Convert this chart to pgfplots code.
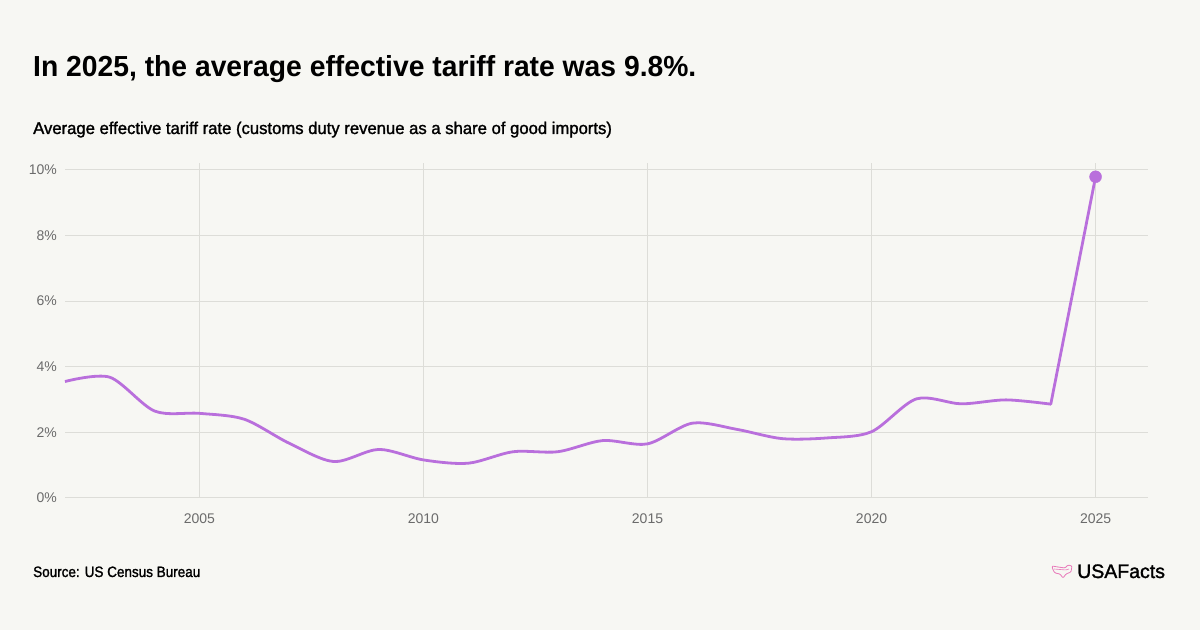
\documentclass[border=0pt]{standalone}
\usepackage{pgfplots}
\pgfplotsset{compat=1.18}
\usepackage{fontspec}
\setmainfont{Liberation Sans}
\newfontfamily\titlefont{Liberation Sans}[FakeStretch=0.975]
\newfontfamily\subfont{Liberation Sans}[FakeStretch=0.98,FakeBold=1.5]
\newfontfamily\srcfont{Liberation Sans}[FakeStretch=0.9,FakeBold=1.5]
\newfontfamily\logofont{Liberation Sans}[FakeBold=1.5]
\definecolor{bg}{HTML}{F7F7F3}
\definecolor{gridc}{HTML}{DDDDD8}
\definecolor{linec}{HTML}{B96FDC}
\definecolor{tickc}{HTML}{6B6B6B}
\definecolor{logop}{HTML}{E879B9}
\begin{document}
\begin{tikzpicture}[x=1bp,y=1bp]
\fill[bg] (0,0) rectangle (1200,630);
\useasboundingbox (0,0) rectangle (1200,630);
\node[anchor=base west, inner sep=0, font=\titlefont\bfseries\fontsize{29bp}{34bp}\selectfont] at (33,553) {In 2025, the average effective tariff rate was 9.8\%.};
\node[anchor=base west, inner sep=0, font=\subfont\fontsize{17bp}{20bp}\selectfont] at (33,496) {Average effective tariff rate (customs duty revenue as a share of good imports)};
\node[anchor=base west, inner sep=0, font=\srcfont\fontsize{15bp}{18bp}\selectfont] at (33,53) {Source: US Census Bureau};
\node[anchor=base west, inner sep=0, font=\logofont\fontsize{19.5bp}{22bp}\selectfont] at (1077,52) {USAFacts};
\draw[logop, line width=0.8bp, rounded corners=1bp] (1052,64) -- (1058,63) -- (1065,62) -- (1068,65) -- (1072,64) -- (1071,58) -- (1066,56) -- (1063,52) -- (1060,56) -- (1055,57) -- (1053,60) -- cycle;
\draw[logop, line width=0.6bp, rounded corners=1bp] (1054,61) -- (1060,60.5) -- (1066,60) -- (1069,61);
\begin{axis}[
  at={(65bp,132bp)}, anchor=south west,
  scale only axis, width=1083bp, height=335bp,
  xmin=2002, xmax=2026.17, ymin=0, ymax=10.21,
  xtick={2005,2010,2015,2020,2025},
  ytick={0,2,4,6,8,10},
  xticklabels={2005,2010,2015,2020,2025},
  yticklabel={\pgfmathprintnumber{\tick}\%},
  /pgf/number format/assume math mode=true,
  grid=major,
  major grid style={gridc, line width=1bp},
  axis line style={draw=none},
  major tick length=0pt,
  tick style={draw=none},
  tick label style={font=\fontsize{14bp}{16bp}\selectfont, text=tickc},
  yticklabel style={anchor=east, inner sep=0pt, xshift=-8bp},
  xticklabel style={anchor=north, inner sep=0pt, yshift=-16bp},
  clip=false,
]
\addplot[linec, line width=2.8bp, smooth, tension=0.5] coordinates {
(2002,3.55) (2003,3.68) (2004,2.65) (2005,2.58) (2006,2.40) (2007,1.67)
(2008,1.11) (2009,1.48) (2010,1.16) (2011,1.06) (2012,1.41) (2013,1.41)
(2014,1.75) (2015,1.65) (2016,2.28) (2017,2.09) (2018,1.81) (2019,1.83)
(2020,2.02) (2021,3.02) (2022,2.87) (2023,2.99) (2024,2.86)
};
\addplot[linec, line width=2.8bp, line cap=round] coordinates {(2024,2.86) (2025,9.79)};
\addplot[only marks, mark=*, mark size=6bp, linec] coordinates {(2025,9.79)};
\end{axis}
\end{tikzpicture}
\end{document}
